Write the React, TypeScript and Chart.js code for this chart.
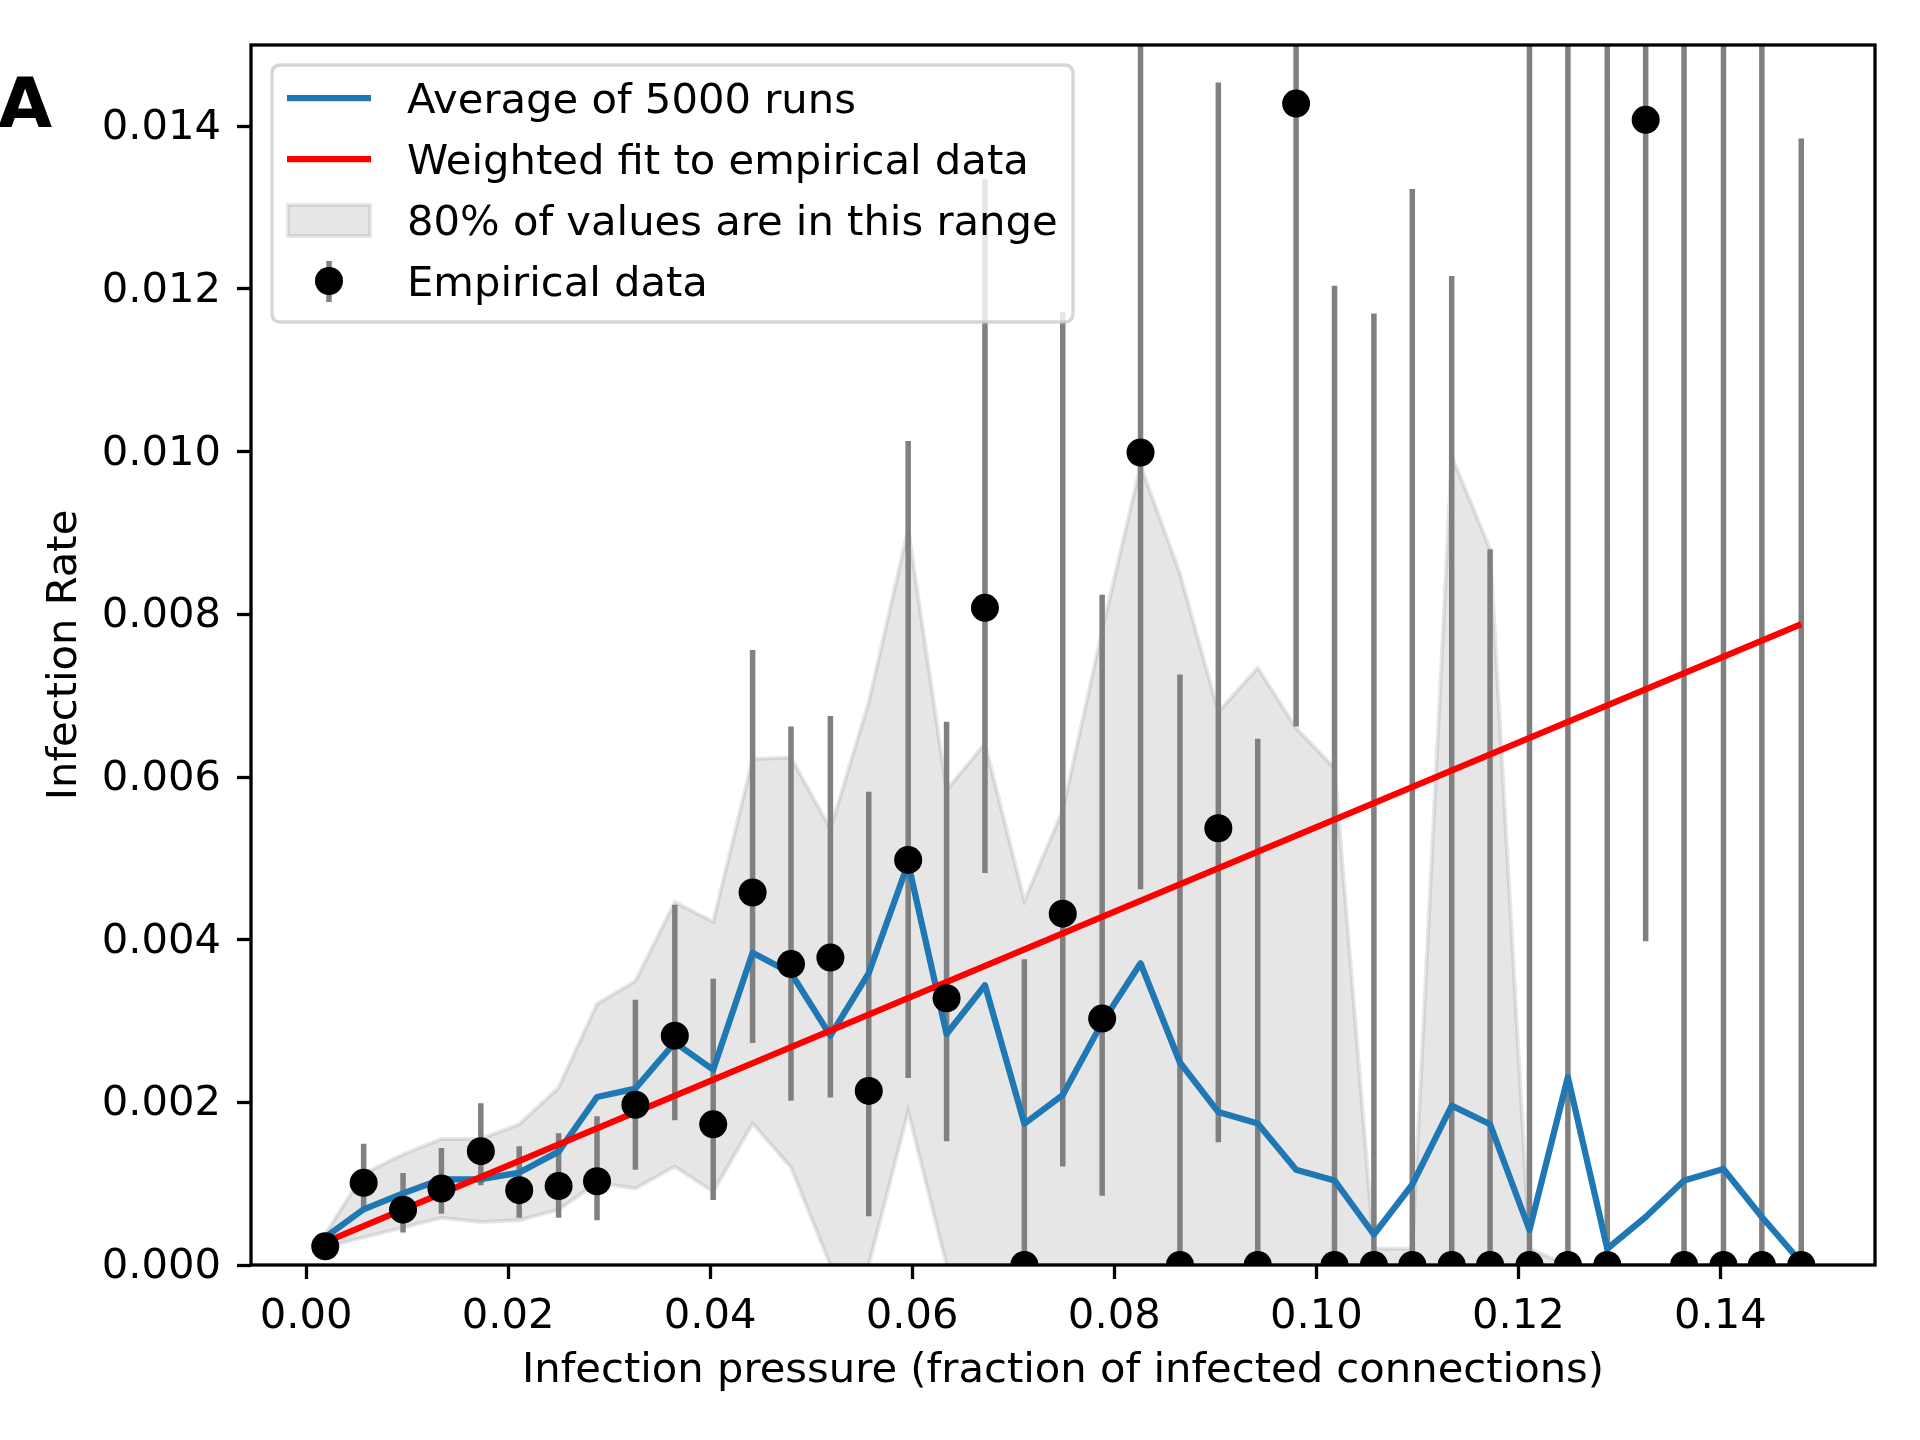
import React, { useEffect, useRef } from "react";
import { Chart, registerables } from "chart.js";

Chart.register(...registerables);

// ---- data ----
const xValues = [
  0.0019, 0.0057, 0.0096, 0.0134, 0.0173, 0.0211, 0.025, 0.0288, 0.0326, 0.0365,
  0.0403, 0.0442, 0.048, 0.0519, 0.0557, 0.0596, 0.0634, 0.0672, 0.0711, 0.0749,
  0.0788, 0.0826, 0.0865, 0.0903, 0.0942, 0.098, 0.1018, 0.1057, 0.1095, 0.1134,
  0.1172, 0.1211, 0.1249, 0.1288, 0.1326, 0.1364, 0.1403, 0.1441, 0.148,
];

const meanRate = [
  0.00034, 0.000685, 0.000881, 0.001054, 0.001054, 0.001136, 0.001394, 0.002066, 0.002169, 0.002735,
  0.0024, 0.00384, 0.00359, 0.00282, 0.00359, 0.00494, 0.00284, 0.00344, 0.001737, 0.00209,
  0.00298, 0.00371, 0.00249, 0.00188, 0.00174, 0.00117, 0.00104, 0.000375, 0.00099, 0.00196,
  0.00173, 0.00043, 0.00231, 0.0002, 0.00059, 0.00104, 0.00118, 0.00059, 0.00003,
];

const bandUpper = [
  0.00038, 0.00112, 0.00136, 0.00155, 0.00155, 0.00173, 0.00218, 0.00321, 0.00349, 0.00446,
  0.00422, 0.00622, 0.00624, 0.00536, 0.00692, 0.00905, 0.00584, 0.00641, 0.00448, 0.00559,
  0.0078, 0.00983, 0.0085, 0.0068, 0.00734, 0.0066, 0.00611, 0.0002, 0.0002, 0.00994,
  0.0088, 0.0002, 0, 0, 0, 0, 0, 0, 0,
];

const bandLower = [
  0.00022, 0.00034, 0.00046, 0.00058, 0.00053, 0.00055, 0.00068, 0.00101, 0.00094, 0.00121,
  0.0009, 0.00174, 0.0012, 0, 0, 0.00189, 0, 0, 0, 0,
  0, 0, 0, 0, 0, 0, 0, 0, 0, 0,
  0, 0, 0, 0, 0, 0, 0, 0, 0,
];

const empiricalRate = [
  0.00023, 0.00101, 0.00068, 0.00094, 0.0014, 0.00092, 0.00097, 0.00103, 0.00197, 0.00282,
  0.00173, 0.00458, 0.0037, 0.00378, 0.00214, 0.00498, 0.00328, 0.00808, 0, 0.00432,
  0.00303, 0.00999, 0, 0.00537, 0, 0.01428, 0, 0, 0, 0,
  0, 0, 0, 0, 0.01408, 0, 0, 0, 0,
];

const empiricalLow = [
  0.0002, 0.0007, 0.0004, 0.00063, 0.00098, 0.00058, 0.00058, 0.00055, 0.00117, 0.00178,
  0.0008, 0.00273, 0.00202, 0.00206, 0.0006, 0.0023, 0.00152, 0.00482, 0, 0.00121,
  0.00085, 0.00462, 0, 0.00151, 0, 0.00662, 0, 0, 0, 0,
  0, 0, 0, 0, 0.00398, 0, 0, 0, 0,
];

const empiricalHigh = [
  0.0003, 0.00149, 0.00113, 0.00144, 0.00199, 0.00146, 0.00162, 0.00183, 0.00326, 0.00443,
  0.00352, 0.00756, 0.00662, 0.00675, 0.00582, 0.01013, 0.00668, 0.01335, 0.00376, 0.01172,
  0.00824, 0.017, 0.00726, 0.01454, 0.00647, 0.022, 0.01204, 0.0117, 0.01323, 0.01216,
  0.0088, 0.017, 0.02, 0.017, 0.022, 0.017, 0.017, 0.017, 0.01385,
];

const fitX = [0.0019, 0.148];
const fitY = [0.00028, 0.00788];

const xTickValues = [0, 0.02, 0.04, 0.06, 0.08, 0.1, 0.12, 0.14];
const xTickLabels = ["0.00", "0.02", "0.04", "0.06", "0.08", "0.10", "0.12", "0.14"];
const yTickValues = [0, 0.002, 0.004, 0.006, 0.008, 0.01, 0.012, 0.014];
const yTickLabels = ["0.000", "0.002", "0.004", "0.006", "0.008", "0.010", "0.012", "0.014"];

const legendLabels = [
  "Average of 5000 runs",
  "Weighted fit to empirical data",
  "80% of values are in this range",
  "Empirical data",
];
const xAxisTitle = "Infection pressure (fraction of infected connections)";
const yAxisTitle = "Infection Rate";
const panelLabel = "A";

// ---- styling ----
const FONT = "DejaVu Sans";
const FS = 41.7;
const BLUE = "#1f77b4";
const RED = "#ff0000";
const BAR_GREY = "#808080";
const BAND_FILL = "rgba(128,128,128,0.2)";
const LINE_W = 6.25;
const BAR_W = 5.5;

const errorBarPlugin = {
  id: "errorBars",
  beforeDatasetDraw(chart: any, args: any) {
    if (chart.data.datasets[args.index].label !== legendLabels[0]) return;
    const { ctx, chartArea, scales } = chart;
    ctx.save();
    ctx.beginPath();
    ctx.rect(chartArea.left, chartArea.top, chartArea.right - chartArea.left, chartArea.bottom - chartArea.top);
    ctx.clip();
    ctx.strokeStyle = BAR_GREY;
    ctx.lineWidth = BAR_W;
    ctx.lineCap = "butt";
    ctx.beginPath();
    xValues.forEach((x, i) => {
      const px = scales.x.getPixelForValue(x);
      ctx.moveTo(px, scales.y.getPixelForValue(empiricalLow[i]));
      ctx.lineTo(px, scales.y.getPixelForValue(empiricalHigh[i]));
    });
    ctx.stroke();
    ctx.restore();
  },
};

const overlayPlugin = {
  id: "overlay",
  afterDatasetsDraw(chart: any) {
    const { ctx, chartArea } = chart;
    ctx.save();
    // axes frame
    ctx.strokeStyle = "#000";
    ctx.lineWidth = 3.3;
    ctx.strokeRect(chartArea.left, chartArea.top, chartArea.right - chartArea.left, chartArea.bottom - chartArea.top);

    // legend box
    const x0 = 272, y0 = 65, x1 = 1073, y1 = 322, r = 9;
    ctx.beginPath();
    ctx.moveTo(x0 + r, y0);
    ctx.lineTo(x1 - r, y0);
    ctx.quadraticCurveTo(x1, y0, x1, y0 + r);
    ctx.lineTo(x1, y1 - r);
    ctx.quadraticCurveTo(x1, y1, x1 - r, y1);
    ctx.lineTo(x0 + r, y1);
    ctx.quadraticCurveTo(x0, y1, x0, y1 - r);
    ctx.lineTo(x0, y0 + r);
    ctx.quadraticCurveTo(x0, y0, x0 + r, y0);
    ctx.closePath();
    ctx.fillStyle = "rgba(255,255,255,0.8)";
    ctx.fill();
    ctx.strokeStyle = "rgba(204,204,204,0.8)";
    ctx.lineWidth = 3.3;
    ctx.stroke();

    const rows = [98, 159, 220, 281];
    const hx0 = 287, hx1 = 371, hc = 329;
    ctx.lineCap = "butt";
    ctx.lineWidth = LINE_W;
    ctx.strokeStyle = BLUE;
    ctx.beginPath();
    ctx.moveTo(hx0, rows[0]);
    ctx.lineTo(hx1, rows[0]);
    ctx.stroke();
    ctx.strokeStyle = RED;
    ctx.beginPath();
    ctx.moveTo(hx0, rows[1]);
    ctx.lineTo(hx1, rows[1]);
    ctx.stroke();
    ctx.fillStyle = BAND_FILL;
    ctx.fillRect(hx0 + 1, rows[2] - 15, hx1 - hx0 - 2, 31);
    ctx.strokeStyle = BAND_FILL;
    ctx.lineWidth = 4;
    ctx.strokeRect(hx0 + 1, rows[2] - 15, hx1 - hx0 - 2, 31);
    ctx.strokeStyle = BAR_GREY;
    ctx.lineWidth = BAR_W;
    ctx.beginPath();
    ctx.moveTo(hc, rows[3] - 20);
    ctx.lineTo(hc, rows[3] + 21);
    ctx.stroke();
    ctx.fillStyle = "#000";
    ctx.beginPath();
    ctx.arc(hc, rows[3], 14, 0, Math.PI * 2);
    ctx.fill();

    ctx.fillStyle = "#000";
    ctx.font = `${FS}px "${FONT}"`;
    ctx.textBaseline = "alphabetic";
    ctx.textAlign = "left";
    legendLabels.forEach((t, i) => ctx.fillText(t, 407, rows[i] + 15));

    // panel label
    ctx.font = `bold 70px "${FONT}"`;
    ctx.fillText(panelLabel, -2, 127);
    ctx.restore();
  },
};

export default function App() {
  const canvasRef = useRef<HTMLCanvasElement | null>(null);

  useEffect(() => {
    document.body.style.margin = "0";
    const canvas = canvasRef.current;
    if (!canvas) return;
    Chart.defaults.font.family = FONT;
    Chart.defaults.font.size = FS;
    Chart.defaults.color = "#000";

    const tickFont = { family: FONT, size: FS, lineHeight: 1.2 };

    const chart = new Chart(canvas, {
      type: "line",
      data: {
        datasets: [
          {
            label: legendLabels[3],
            data: xValues.map((x, i) => ({ x, y: empiricalRate[i] })),
            showLine: false,
            pointRadius: 14,
            pointBackgroundColor: "#000",
            pointBorderColor: "#000",
            pointBorderWidth: 0,
            order: 0,
            clip: 0,
          },
          {
            label: legendLabels[1],
            data: fitX.map((x, i) => ({ x, y: fitY[i] })),
            borderColor: RED,
            borderWidth: LINE_W,
            pointRadius: 0,
            fill: false,
            order: 1,
          },
          {
            label: legendLabels[0],
            data: xValues.map((x, i) => ({ x, y: meanRate[i] })),
            borderColor: BLUE,
            borderWidth: LINE_W,
            borderJoinStyle: "round",
            pointRadius: 0,
            fill: false,
            order: 2,
          },
          {
            label: "band-lower",
            data: xValues.map((x, i) => ({ x, y: bandLower[i] })),
            borderColor: BAND_FILL,
            borderWidth: 4,
            pointRadius: 0,
            fill: false,
            order: 3,
            clip: 0,
          },
          {
            label: legendLabels[2],
            data: xValues.map((x, i) => ({ x, y: bandUpper[i] })),
            borderColor: BAND_FILL,
            backgroundColor: BAND_FILL,
            borderWidth: 4,
            pointRadius: 0,
            fill: "-1",
            order: 4,
            clip: 0,
          },
        ],
      } as any,
      options: {
        responsive: false,
        animation: false,
        devicePixelRatio: 1,
        events: [],
        layout: { padding: { top: 45, right: 45, left: 0, bottom: 0 } },
        plugins: {
          legend: { display: false },
          tooltip: { enabled: false },
        },
        scales: {
          x: {
            type: "linear",
            position: "bottom",
            min: -0.00545,
            max: 0.1553,
            afterBuildTicks: (axis: any) => {
              axis.ticks = xTickValues.map((v) => ({ value: v }));
            },
            afterFit: (axis: any) => {
              axis.height = 175;
            },
            grid: {
              display: true,
              drawOnChartArea: false,
              drawTicks: true,
              tickLength: 14,
              tickWidth: 3.3,
              tickColor: "#000",
              color: "#000",
            },
            border: { display: false },
            ticks: {
              autoSkip: false,
              maxRotation: 0,
              minRotation: 0,
              padding: 13,
              color: "#000",
              font: tickFont,
              callback: (_v: any, i: number) => xTickLabels[i],
            },
            title: {
              display: true,
              text: xAxisTitle,
              color: "#000",
              font: tickFont,
              padding: { top: 0, bottom: 44 },
            },
          },
          y: {
            type: "linear",
            position: "left",
            min: 0,
            max: 0.015,
            afterBuildTicks: (axis: any) => {
              axis.ticks = yTickValues.map((v) => ({ value: v }));
            },
            afterFit: (axis: any) => {
              axis.width = 251;
            },
            grid: {
              display: true,
              drawOnChartArea: false,
              drawTicks: true,
              tickLength: 14,
              tickWidth: 3.3,
              tickColor: "#000",
              color: "#000",
            },
            border: { display: false },
            ticks: {
              autoSkip: false,
              padding: 16,
              labelOffset: 2,
              color: "#000",
              font: tickFont,
              callback: (_v: any, i: number) => yTickLabels[i],
            },
            title: {
              display: true,
              text: yAxisTitle,
              color: "#000",
              font: tickFont,
              padding: { top: 40, bottom: 0 },
            },
          },
        },
      } as any,
      plugins: [errorBarPlugin, overlayPlugin],
    });
    return () => chart.destroy();
  }, []);

  return (
    <div
      style={{
        position: "fixed",
        left: 0,
        top: 0,
        width: 1920,
        height: 1440,
        background: "#fff",
      }}
    >
      <canvas
        ref={canvasRef}
        width={1920}
        height={1440}
        style={{ width: 1920, height: 1440, display: "block" }}
      />
    </div>
  );
}
